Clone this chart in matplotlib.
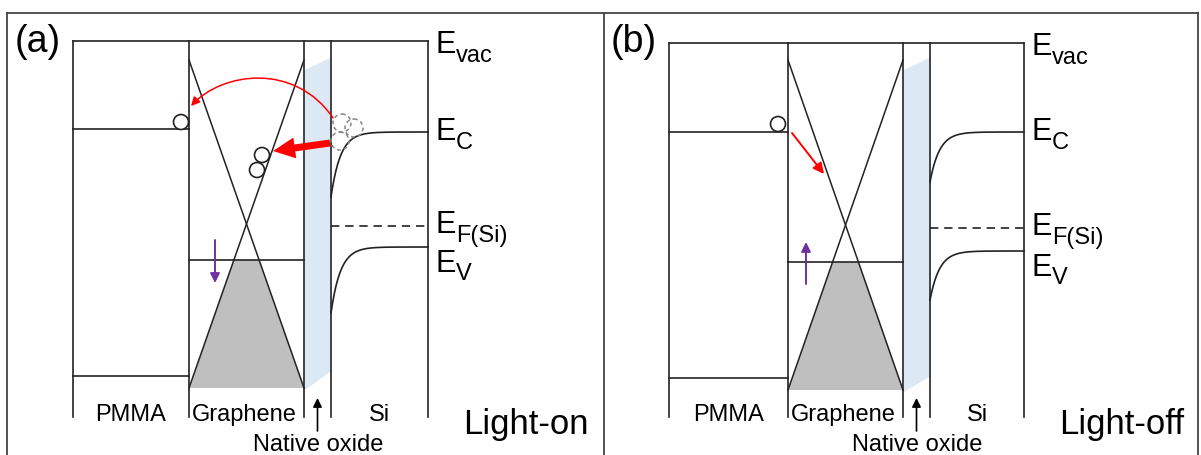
import numpy as np
import matplotlib
matplotlib.use("Agg")
import matplotlib.pyplot as plt
from matplotlib.patches import Polygon, Circle, FancyArrow, FancyArrowPatch
from matplotlib.path import Path

plt.rcParams['font.family'] = ['Liberation Sans', 'DejaVu Sans']

# layer boundaries (pmma left, graphene left, graphene right, si left, si right), px
bounds_a = [73, 189, 304, 331, 428]
bounds_b = [669, 788, 903, 930, 1024]
# top line, bottom of separators
top_a, top_b = 41, 43
sep_bottom = 417
# PMMA levels (LUMO, HOMO)
pmma_a = [129, 376]
pmma_b = [132, 378]
# graphene: cone top, cone bottom, fermi level
cone_a = [60, 388, 260]
cone_b = [60, 390, 262]
# Si: Ec bulk, Ec at interface, Ef, Ev bulk, Ev at interface
si_a = [132, 197, 226, 247, 313]
si_b = [132, 182, 228, 251, 300]
# oxide band: top-left, top-right, bottom-left, bottom-right y
ox_a = [70, 58, 390, 372]
ox_b = [70, 58, 392, 377]

labels = ['PMMA', 'Graphene', 'Si']
panel_tags = ['(a)', '(b)']
states = ['Light-on', 'Light-off']

LC = '#222222'
fig = plt.figure(figsize=(12.01, 4.55), dpi=100)
ax = fig.add_axes([0, 0, 1, 1])
ax.set_xlim(0, 1201)
ax.set_ylim(455, 0)
ax.axis('off')

# outer frame
ax.plot([7, 1198], [13, 13], color='#444444', lw=1.3)
for xv in [7, 604, 1198]:
    ax.plot([xv, xv], [13, 455], color='#444444', lw=1.3)


def bend(x, x0, bulk, edge, L=9.5):
    return bulk + (edge - bulk) * np.exp(-(x - x0) / L)


def panel(b, top, pmma, cone, si, ox, tag, state):
    pl, gl, gr, sl, sr = b
    # oxide
    ax.add_patch(Polygon([(gr + 1, ox[0]), (sl - 1, ox[1]), (sl - 1, ox[3]), (gr + 1, ox[2])],
                         closed=True, fc='#dce8f4', ec='none', zorder=1))
    # separators
    for xv in b:
        ax.plot([xv, xv], [top, sep_bottom], color=LC, lw=1.2, zorder=3)
    ax.plot([pl, sr], [top, top], color=LC, lw=1.2, zorder=3)
    # PMMA
    for yv in pmma:
        ax.plot([pl, gl], [yv, yv], color=LC, lw=1.2, zorder=3)
    # graphene cone
    ct, cb, ef = cone
    f = (ef - ct) / (cb - ct)
    x1 = gr - f * (gr - gl)
    x2 = gl + f * (gr - gl)
    ax.add_patch(Polygon([(x1, ef), (x2, ef), (gr, cb), (gl, cb)], closed=True,
                         fc='#bfbfbf', ec='none', zorder=2))
    ax.plot([gl, gr], [ct, cb], color=LC, lw=1.1, zorder=3)
    ax.plot([gr, gl], [ct, cb], color=LC, lw=1.1, zorder=3)
    ax.plot([gl, gr], [ef, ef], color=LC, lw=1.2, zorder=3)
    # Si bands
    xs = np.linspace(sl, sr, 300)
    ax.plot(xs, bend(xs, sl, si[0], si[1]), color=LC, lw=1.2, zorder=3)
    ax.plot(xs, bend(xs, sl, si[3], si[4]), color=LC, lw=1.2, zorder=3)
    ax.plot([sl, sr], [si[2], si[2]], color=LC, lw=1.2, ls=(0, (5, 3.5)), zorder=3)
    # energy labels
    ex = sr + 7
    for yb, sub, dy in [(top + 12, 'vac', 9), (si[0] + 8, 'C', 9), (si[2] + 7, 'F(Si)', 9),
                        (si[3] + 25, 'V', 8)]:
        ax.text(ex, yb, 'E', fontsize=22, va='baseline', ha='left', color='black')
        ax.text(ex + 21, yb + dy, sub, fontsize=17, va='baseline', ha='left', color='black')
    # region labels
    ax.text((pl + gl) / 2, 421, labels[0], fontsize=17, ha='center', va='baseline')
    ax.text(gl + 3, 421, labels[1], fontsize=17, ha='left', va='baseline')
    ax.text((sl + sr) / 2, 421, labels[2], fontsize=17, ha='center', va='baseline')
    xo = (gr + sl) / 2
    ax.annotate('', xy=(xo, 398), xytext=(xo, 431),
                arrowprops=dict(arrowstyle='-|>', color='black', lw=1.2,
                                mutation_scale=13, shrinkA=0, shrinkB=0))
    ax.text(xo + 1, 451, 'Native oxide', fontsize=17, ha='center', va='baseline')
    ax.text(pl - 58, 52, tag, fontsize=27, ha='left', va='baseline')
    ax.text(sr + 35, 434, state, fontsize=25, ha='left', va='baseline')


panel(bounds_a, top_a, pmma_a, cone_a, si_a, ox_a, panel_tags[0], states[0])
panel(bounds_b, top_b, pmma_b, cone_b, si_b, ox_b, panel_tags[1], states[1])

# carriers (holes) and transfer arrows
holes_a = [(181, 122), (262, 155), (257, 170)]
ghost_a = [(342, 123), (354, 128), (340, 141)]
holes_b = [(778, 124)]
for c in holes_a + holes_b:
    ax.add_patch(Circle(c, 7.5, fc='white', ec=LC, lw=1.2, zorder=5))
for c in ghost_a:
    ax.add_patch(Circle(c, 9, fc='none', ec='#888888', lw=1.1, ls=(0, (2.5, 2)), zorder=5))

curve_a = [(333, 118), (295, 62), (222, 72), (191, 106)]
ax.add_patch(FancyArrowPatch(path=Path(curve_a, [Path.MOVETO, Path.CURVE4, Path.CURVE4, Path.CURVE4]),
                             arrowstyle='-|>', mutation_scale=13, color='red', lw=1.1, zorder=6))
ax.add_patch(FancyArrow(330, 143, -57, 8, width=7, head_width=21, head_length=22,
                        length_includes_head=True, color='red', lw=0, zorder=6))
ax.annotate('', xy=(824, 174), xytext=(792, 133),
            arrowprops=dict(arrowstyle='-|>', color='red', lw=1.4, mutation_scale=16,
                            shrinkA=0, shrinkB=0), zorder=6)
# fermi level shift
ax.annotate('', xy=(215, 283), xytext=(215, 240),
            arrowprops=dict(arrowstyle='-|>', color='#7030a0', lw=1.4, mutation_scale=14,
                            shrinkA=0, shrinkB=0), zorder=6)
ax.annotate('', xy=(806, 242), xytext=(806, 284),
            arrowprops=dict(arrowstyle='-|>', color='#7030a0', lw=1.4, mutation_scale=14,
                            shrinkA=0, shrinkB=0), zorder=6)

fig.savefig('out.png', dpi=100)
